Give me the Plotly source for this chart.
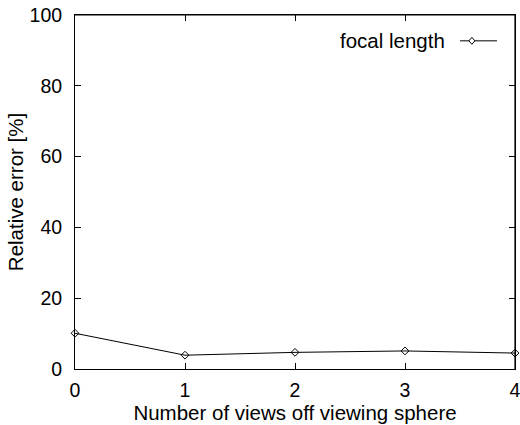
import plotly.graph_objects as go

views = [0, 1, 2, 3, 4]
focal_length_err = [10.1, 3.9, 4.7, 5.1, 4.5]
x_ticks = [0, 1, 2, 3, 4]
y_ticks = [0, 20, 40, 60, 80, 100]

FONT = "Liberation Sans, Arial, Helvetica, sans-serif"
x_lo, x_hi = min(x_ticks), max(x_ticks)
y_lo, y_hi = min(y_ticks), max(y_ticks)

fig = go.Figure()
# frame on top and right, drawn through the axes' own scales
fig.add_trace(go.Scatter(
    x=[x_lo, x_hi, x_hi], y=[y_hi, y_hi, y_lo], mode="lines",
    line=dict(color="black", width=1.2), showlegend=False, hoverinfo="skip", cliponaxis=False,
))
fig.add_trace(go.Scatter(
    x=views, y=focal_length_err, mode="lines+markers", name="focal length",
    line=dict(color="black", width=1),
    marker=dict(symbol="diamond-open", size=6, color="black", line=dict(width=1, color="black")),
    showlegend=False, cliponaxis=False,
))

axis_common = dict(
    ticks="inside", ticklen=6, tickwidth=1, tickcolor="black",
    showline=True, linecolor="black", linewidth=1, mirror="ticks",
    showgrid=False, zeroline=False, tickfont=dict(size=19.5),
    ticklabeloverflow="allow", automargin=False,
)

fig.update_layout(
    width=520, height=425,
    margin=dict(l=75, r=5, t=15, b=56),
    paper_bgcolor="white", plot_bgcolor="white",
    font=dict(family=FONT, size=19, color="black"),
    xaxis=dict(
        range=[x_lo, x_hi], tickvals=x_ticks, **axis_common, ticklabelstandoff=4,
        title=dict(text="Number of views off viewing sphere", standoff=0, font=dict(size=20.5)),
    ),
    yaxis=dict(
        range=[y_lo, y_hi], tickvals=y_ticks, **axis_common, ticklabelstandoff=8,
        title=dict(text="Relative error [%]", standoff=0, font=dict(size=20.5)),
    ),
)

# legend: text on the left, sample line with marker on the right (gnuplot style)
fig.add_annotation(x=0.845, y=0.927, xref="paper", yref="paper", text="focal length",
                   showarrow=False, xanchor="right", yanchor="middle", font=dict(size=20.5))
fig.add_shape(type="line", xref="paper", yref="paper", x0=0.875, x1=0.959, y0=0.927, y1=0.927,
              line=dict(color="black", width=1))
fig.add_shape(type="path", xref="paper", yref="paper", xsizemode="pixel", ysizemode="pixel",
              xanchor=0.902, yanchor=0.927, path="M -3 0 L 0 3.5 L 3 0 L 0 -3.5 Z",
              fillcolor="white", line=dict(color="black", width=1))

fig.write_html("out.html", config={"displayModeBar": False},
               post_script="document.body.style.margin='0';document.body.style.overflow='hidden';")
